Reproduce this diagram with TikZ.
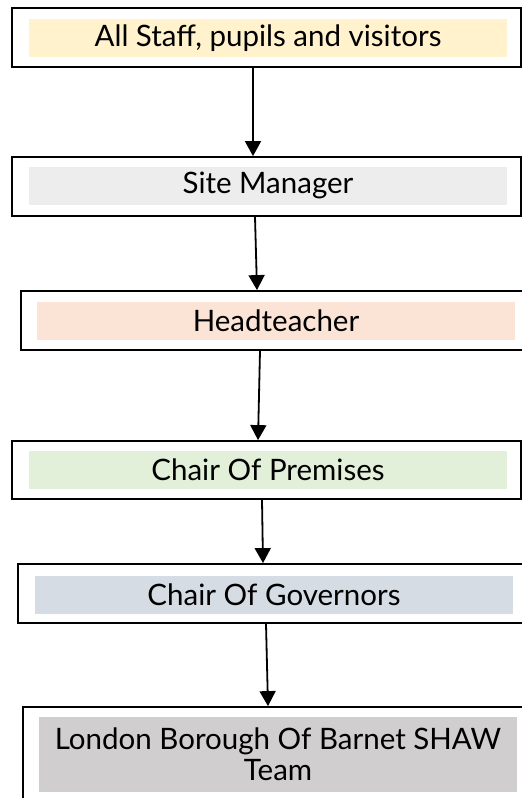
\documentclass[tikz,border=0pt]{standalone}
\usepackage{fontspec}
\setmainfont{Lato}
\usetikzlibrary{arrows.meta, positioning}
\definecolor{bandyellow}{HTML}{FFF2CC}
\definecolor{bandgrey}{HTML}{EDEDED}
\definecolor{bandpeach}{HTML}{FBE4D5}
\definecolor{bandgreen}{HTML}{E2EFD9}
\definecolor{bandblue}{HTML}{D6DCE4}
\definecolor{banddark}{HTML}{D0CECE}

\begin{document}
\begin{tikzpicture}[
    x=1pt, y=1pt,
    frame/.style={draw, line width=1.8pt, fill=white, minimum width=509pt, minimum height=59pt, inner sep=0pt},
    band/.style={minimum width=478pt, minimum height=38pt, inner sep=0pt, align=center, font=\fontsize{29.5}{31}\selectfont},
    arrow/.style={-{Triangle[width=16pt,length=15pt]}, line width=1.8pt}
]
\useasboundingbox (0,0) rectangle (522,-798);

% Nodes
\node[frame] (S) at (266.5,-37.5) {};
\node[band, fill=bandyellow] (Sb) at (268,-38) {All Staff, pupils and visitors};

\node[frame] (M) at (266.5,-186.5) {};
\node[band, fill=bandgrey] (Mb) at (268,-185.5) {Site Manager};

\node[frame] (H) at (275.5,-320.5) {};
\node[band, fill=bandpeach] (Hb) at (276,-321) {Headteacher};

\node[frame, minimum height=58pt] (P) at (266.5,-470) {};
\node[band, fill=bandgreen] (Pb) at (268,-470) {Chair Of Premises};

\node[frame] (G) at (272.5,-593.5) {};
\node[band, fill=bandblue] (Gb) at (274,-594.5) {Chair Of Governors};

\node[frame, minimum height=95pt] (L) at (277.5,-754.5) {};
\node[band, fill=banddark, minimum height=75pt] (Lb) at (278,-754.5) {London Borough Of Barnet SHAW\\ Team};

% Arrows
\draw[arrow] ([xshift=-13.5pt]S.south) -- ([xshift=-13.5pt]M.north);
\draw[arrow] ([xshift=-11.5pt]M.south) -- ([xshift=-18.5pt]H.north);
\draw[arrow] ([xshift=-15.5pt]H.south) -- ([xshift=-8.5pt]P.north);
\draw[arrow] ([xshift=-4.5pt]P.south) -- ([xshift=-9.5pt]G.north);
\draw[arrow] ([xshift=-6.5pt]G.south) -- ([xshift=-9.5pt]L.north);

\end{tikzpicture}
\end{document}
